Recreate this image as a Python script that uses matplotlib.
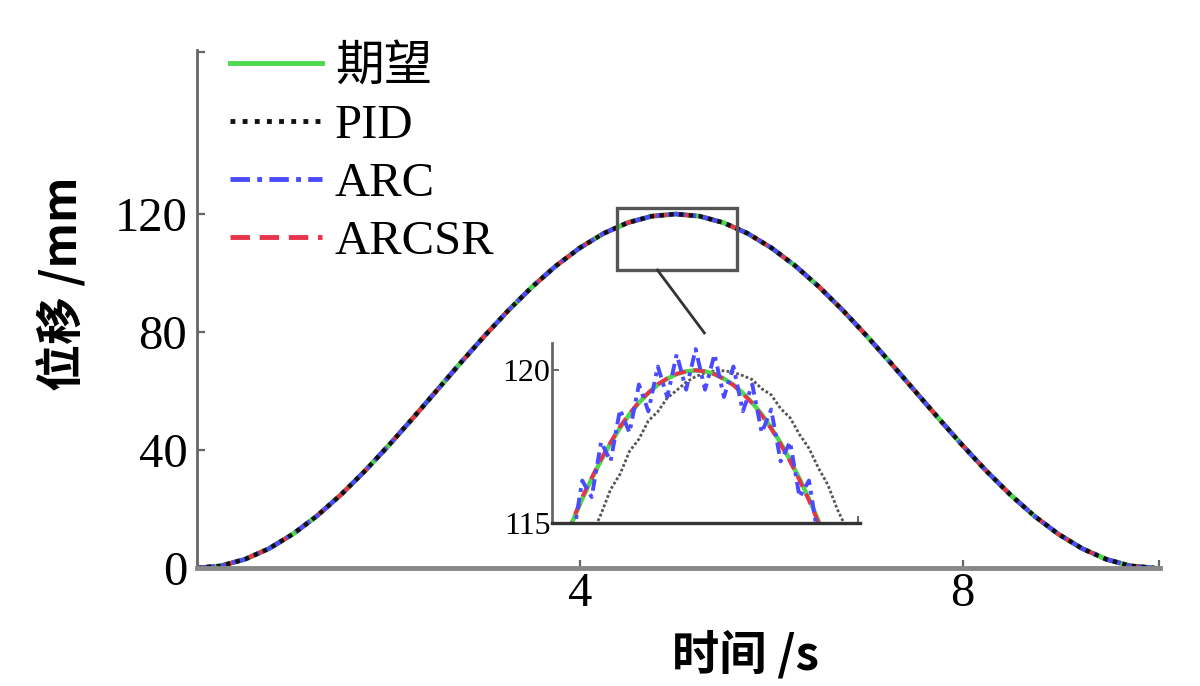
import matplotlib
matplotlib.use("Agg")
import matplotlib.pyplot as plt
from matplotlib.patches import Rectangle
from matplotlib.lines import Line2D

# ---------------- data ----------------
# main curve (time in s, displacement in mm)
t_main = [0.0, 0.25, 0.5, 0.75, 1.0, 1.25, 1.5, 1.75, 2.0, 2.25, 2.5, 2.75, 3.0,
          3.25, 3.5, 3.75, 4.0, 4.25, 4.5, 4.75, 5.0, 5.25, 5.5, 5.75, 6.0, 6.25,
          6.5, 6.75, 7.0, 7.25, 7.5, 7.75, 8.0, 8.25, 8.5, 8.75, 9.0, 9.25, 9.5,
          9.75, 10.0]
y_desired = [0.0, 0.74, 2.94, 6.54, 11.46, 17.57, 24.73, 32.76, 41.46, 50.61, 60.0,
             69.39, 78.54, 87.24, 95.27, 102.43, 108.54, 113.46, 117.06, 119.26,
             120.0, 119.26, 117.06, 113.46, 108.54, 102.43, 95.27, 87.24, 78.54,
             69.39, 60.0, 50.61, 41.46, 32.76, 24.73, 17.57, 11.46, 6.54, 2.94,
             0.74, 0.0]
y_pid_main = y_desired
y_arc_main = y_desired
y_arcsr_main = y_desired

# zoomed detail around the peak
t_zoom = [4.25, 4.30, 4.35, 4.40, 4.45, 4.50, 4.55, 4.60, 4.65, 4.70, 4.75, 4.80,
          4.85, 4.90, 4.95, 5.00, 5.05, 5.10, 5.15, 5.20, 5.25, 5.30, 5.35, 5.40,
          5.45, 5.50, 5.55, 5.60, 5.65, 5.70, 5.75, 5.80, 5.85]
z_desired = [113.46, 114.29, 115.07, 115.79, 116.45, 117.06, 117.62, 118.12, 118.56,
             118.94, 119.26, 119.53, 119.73, 119.88, 119.97, 120.00, 119.97, 119.88,
             119.73, 119.53, 119.26, 118.94, 118.56, 118.12, 117.62, 117.06, 116.45,
             115.79, 115.07, 114.29, 113.46, 112.58, 111.64]
z_pid = [111.06, 112.02, 112.94, 113.80, 114.60, 115.30, 116.10, 116.60, 117.35,
         117.75, 118.35, 118.65, 119.10, 119.35, 119.62, 119.80, 119.92, 119.99,
         119.99, 119.94, 119.83, 119.70, 119.40, 119.20, 118.75, 118.45, 117.90,
         117.45, 116.80, 116.25, 115.45, 114.80, 113.96]
z_arc = [112.86, 114.89, 114.47, 116.39, 115.85, 117.66, 117.02, 118.72, 117.96,
         119.54, 118.66, 120.13, 119.13, 120.53, 119.37, 120.70, 119.37, 120.53,
         119.13, 120.13, 118.66, 119.54, 117.96, 118.72, 117.02, 117.66, 115.85,
         116.39, 114.47, 114.89, 112.86, 113.18, 111.04]
z_arcsr = [113.50, 114.35, 115.10, 115.85, 116.48, 117.10, 117.64, 118.16, 118.58,
           118.97, 119.27, 119.55, 119.74, 119.89, 119.97, 120.01, 119.97, 119.88,
           119.72, 119.52, 119.24, 118.92, 118.53, 118.09, 117.58, 117.02, 116.40,
           115.74, 115.02, 114.24, 113.40, 112.52, 111.58]

x_ticks = [4, 8]
y_ticks = [0, 40, 80, 120]
inset_y_ticks = [115, 120]
labels = ["期望", "PID", "ARC", "ARCSR"]

# ---------------- styles ----------------
SERIF = ["Liberation Serif", "Noto Sans CJK SC"]
CJK = ["Noto Sans CJK SC", "Liberation Serif"]
C_GREEN = "#4ed84e"
C_BLACK = "#111111"
C_BLUE = "#4a4aff"
C_RED = "#e8344a"
C_AX = "#666666"

fig = plt.figure(figsize=(12, 6.86), dpi=100)
ax = fig.add_axes([197 / 1200, 1 - 568 / 686, (1160 - 197) / 1200, (568 - 50) / 686])

lw = 3.2
ax.plot(t_main, y_desired, color=C_GREEN, lw=lw + 0.4, ls="-")
ax.plot(t_main, y_arcsr_main, color=C_RED, lw=lw, ls=(0, (4, 2)))
ax.plot(t_main, y_arc_main, color=C_BLUE, lw=lw, ls=(0, (4, 1.5, 1, 1.5)))
ax.plot(t_main, y_pid_main, color=C_BLACK, lw=lw, ls=(0, (1, 1.2)))

ax.set_xlim(0, 10.06)
ax.set_ylim(0, 175.6)
for s in ["top", "right"]:
    ax.spines[s].set_visible(False)
ax.spines["left"].set_color(C_AX)
ax.spines["left"].set_linewidth(2.0)
ax.spines["bottom"].set_color("#888888")
ax.spines["bottom"].set_linewidth(3.5)
ax.set_xticks(x_ticks)
ax.set_yticks(y_ticks)
ax.set_xticks([10.05], minor=True)
ax.set_yticks([175.0], minor=True)
ax.tick_params(axis="both", which="both", direction="in", length=6, width=1.6, color=C_AX)
ax.tick_params(axis="x", pad=3)
ax.tick_params(axis="y", pad=7)
for lab in ax.get_xticklabels() + ax.get_yticklabels():
    lab.set_fontfamily(SERIF)
    lab.set_fontsize(35)

# zoom box + connector
ax.add_patch(Rectangle((4.39, 101), 1.25, 21, fill=False, ec="#555555", lw=2.4, zorder=5))
ax.plot([4.81, 5.30], [101, 79.7], color="#333333", lw=2.0, zorder=5)

# legend
handles = [
    Line2D([], [], color=C_GREEN, lw=3.5, ls="-"),
    Line2D([], [], color=C_BLACK, lw=3.5, ls=(0, (1, 1.5))),
    Line2D([], [], color=C_BLUE, lw=3.5, ls=(0, (4, 1.5, 1, 1.5))),
    Line2D([], [], color=C_RED, lw=3.5, ls=(0, (4, 2))),
]
leg = ax.legend(handles, labels, loc="upper left", bbox_to_anchor=(0.034, 1.009),
                frameon=False, borderpad=0, borderaxespad=0, handlelength=1.9,
                handletextpad=0.26, labelspacing=0.285,
                prop={"family": SERIF, "size": 35})

# axis labels
fig.text(63 / 1200, 1 - 284 / 686, "位移 /mm", rotation=90, ha="center", va="center",
         fontsize=34, family=CJK, fontweight="bold")
fig.text(745 / 1200, 1 - 655 / 686, "时间 /s", ha="center", va="center",
         fontsize=34, family=CJK, fontweight="bold")

# inset
axin = fig.add_axes([552 / 1200, 1 - 523 / 686, 308 / 1200, 180 / 686])
axin.patch.set_alpha(0)
ilw = 2.8
axin.plot(t_zoom, z_pid, color="#555555", lw=2.0, ls=(0, (1, 0.8)))
axin.plot(t_zoom, z_desired, color=C_GREEN, lw=ilw + 0.4, ls="-")
axin.plot(t_zoom, z_arcsr, color=C_RED, lw=ilw, ls=(0, (3, 2)))
axin.plot(t_zoom, z_arc, color=C_BLUE, lw=ilw, ls=(0, (3, 1.5, 1, 1.5)))
axin.set_xlim(4.24, 5.87)
axin.set_ylim(115, 120.9)
for s in ["top", "right"]:
    axin.spines[s].set_visible(False)
axin.spines["left"].set_color(C_AX)
axin.spines["left"].set_linewidth(2.0)
axin.spines["bottom"].set_color("#333333")
axin.spines["bottom"].set_linewidth(2.4)
axin.set_xticks([5.86])
axin.set_xticklabels([""])
axin.set_yticks(inset_y_ticks)
axin.tick_params(axis="both", direction="in", length=5, width=1.4, color=C_AX, pad=1)
for lab in axin.get_yticklabels():
    lab.set_fontfamily(SERIF)
    lab.set_fontsize(23)

fig.savefig("out.png", dpi=100)
